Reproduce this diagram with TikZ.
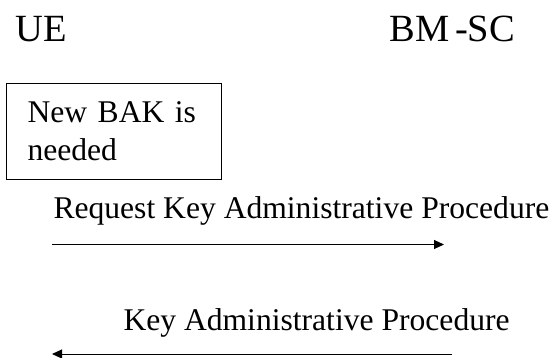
\documentclass[tikz,border=0pt]{standalone}
\usepackage{fontspec}
\setmainfont{Liberation Serif}
\usetikzlibrary{arrows.meta}

\begin{document}
\begin{tikzpicture}[x=1pt, y=-1pt, line width=1pt,
    party/.style = {anchor=base west, inner sep=0, font=\fontsize{38.5}{46}\selectfont},
    label/.style = {anchor=base west, inner sep=0, font=\fontsize{31.6}{38.4}\selectfont},
    msg/.style = {-{Triangle[length=10pt, width=9pt]}}]
		\useasboundingbox (0,0) rectangle (559,358);

		\node[party] (UE) at (15,42) {UE};
		\node[party] (BMSC) at (389,42) {BM\hspace{0.15em}-SC};

		\node[draw, anchor=north west, align=left, text width=173pt, inner xsep=21pt, inner ysep=18pt,
		      font=\fontsize{31.6}{38.4}\selectfont] (Need) at (6,83) {New BAK is\\needed};

		\node[label] (ReqLabel) at (53,218) {Request Key Administrative Procedure};
		\coordinate (ReqStart) at (52,244.5);
		\coordinate (ReqEnd) at (444,244.5);
		\draw[msg] (ReqStart) -- (ReqEnd);

		\node[label] (KeyLabel) at (123,330) {Key Administrative Procedure};
		\coordinate (KeyStart) at (452,354);
		\coordinate (KeyEnd) at (52,354);
		\draw[msg] (KeyStart) -- (KeyEnd);
	\end{tikzpicture}
\end{document}
